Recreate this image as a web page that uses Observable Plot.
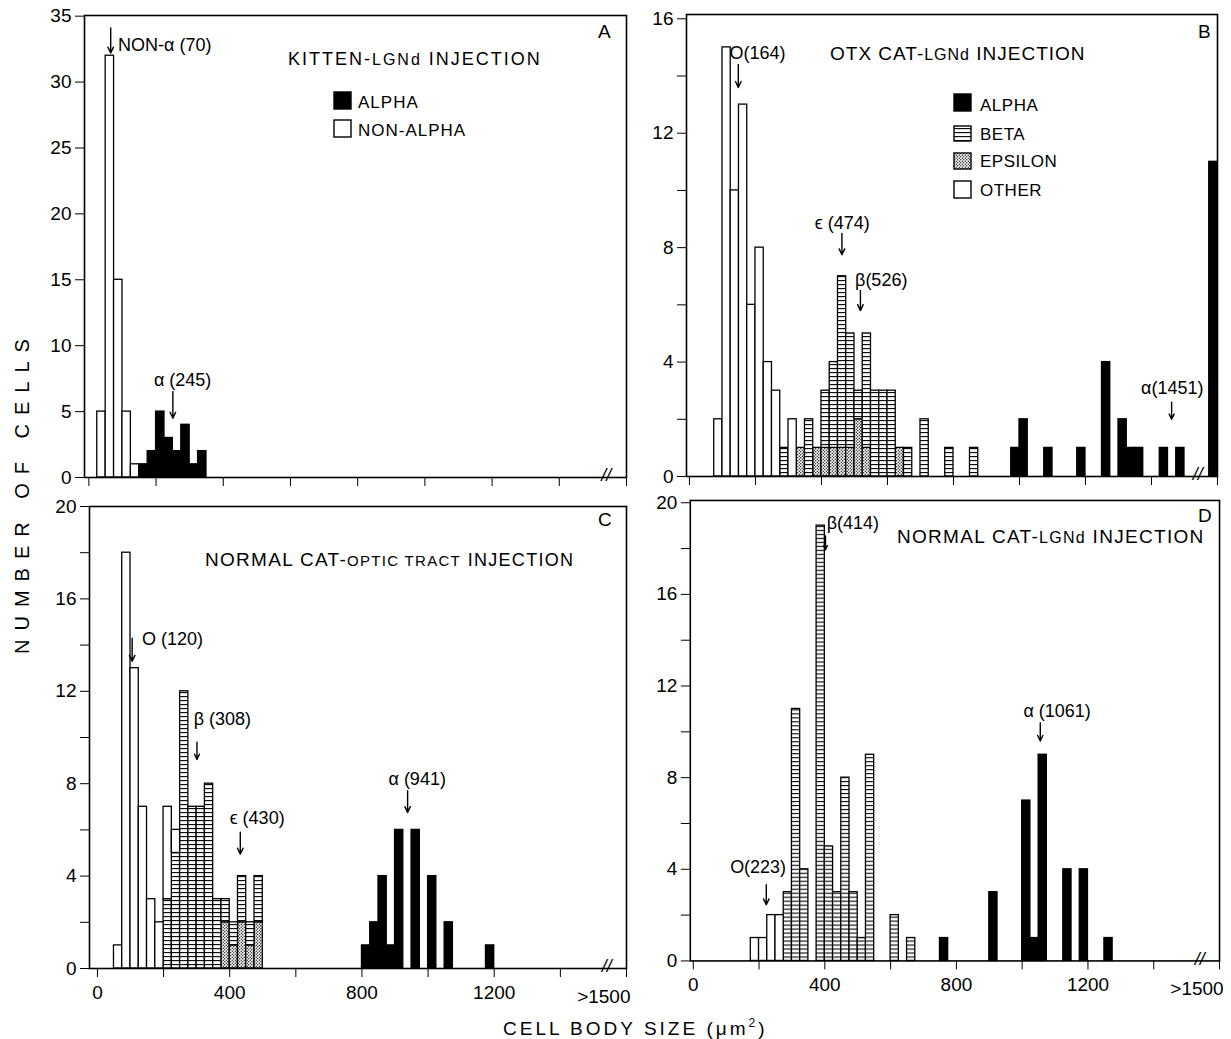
<!DOCTYPE html>
<html><head><meta charset="utf-8">
<script src="https://cdn.jsdelivr.net/npm/d3@7"></script>
<script src="https://cdn.jsdelivr.net/npm/@observablehq/plot@0.6"></script>
<style>
body{margin:0;background:#fff;}
#page{position:relative;width:1231px;height:1039px;background:#fff;overflow:hidden;font-family:"Liberation Sans Narrow","Liberation Sans",sans-serif;color:#000;}
.panel{position:absolute;}
#overlay{position:absolute;left:0;top:0;pointer-events:none;}
</style></head><body>
<div id="page">
<svg width="0" height="0" style="position:absolute">
<defs>
<pattern id="hatch" patternUnits="userSpaceOnUse" width="8" height="4"><rect width="8" height="4" fill="white"/><line x1="0" y1="0.6" x2="8" y2="0.6" stroke="black" stroke-width="1.1"/></pattern>
<pattern id="dots" patternUnits="userSpaceOnUse" width="3" height="3"><rect width="3" height="3" fill="white"/><circle cx="0.75" cy="0.75" r="0.65" fill="black"/><circle cx="2.25" cy="2.25" r="0.65" fill="black"/></pattern>
</defs></svg>
</div>
<script>
// ---------- DATA (bin start in µm², count) ----------
const BIN = 25;
// Panel A: kitten, LGNd injection
const aOther = [[25,5],[50,32],[75,15],[100,5],[125,1]];
const aAlpha = [[150,1],[175,2],[200,5],[225,3],[250,2],[275,4],[300,1],[325,2]];
// Panel B: OTX cat, LGNd injection
const bEpsilon = [[325,1],[375,1],[400,1],[425,1],[450,1],[475,1],[500,2],[525,1],[625,1]];
const bBeta = [[275,1],[350,2],[400,2],[425,3],[450,6],[475,4],[500,1],[525,4],[550,3],[575,3],[600,3],[650,1],[700,2],[775,1],[850,1]];
const bOther = [[75,2],[100,15],[125,10],[150,13],[175,6],[200,8],[225,4],[250,3],[300,2]];
const bAlpha = [[975,1],[1000,2],[1075,1],[1175,1],[1250,4],[1300,2],[1325,1],[1350,1],[1425,1],[1475,1],[1575,11]];
// Panel C: normal cat, optic tract injection
const cEpsilon = [[375,2],[400,1],[425,2],[450,1],[475,2]];
const cBeta = [[200,3],[225,5],[250,12],[275,7],[300,7],[325,8],[350,3],[375,1],[400,1],[425,2],[450,1],[475,2]];
const cOther = [[50,1],[75,18],[100,13],[125,7],[150,3],[175,2],[200,4],[225,1]];
const cAlpha = [[800,1],[825,2],[850,4],[875,1],[900,6],[950,6],[1000,4],[1050,2],[1175,1]];
// Panel D: normal cat, LGNd injection
const dBeta = [[275,3],[300,11],[325,4],[375,19],[400,5],[425,3],[450,8],[475,3],[500,1],[525,9],[600,2],[650,1]];
const dOther = [[175,1],[200,1],[225,2],[250,2]];
const dAlpha = [[750,1],[900,3],[1000,7],[1025,1],[1050,9],[1125,4],[1175,4],[1250,1]];

// Mean annotations: label, arrow x, arrow y top, arrow y tip, text x, text y, anchor
const aNotes = [["NON-α (70)",65,34.1,32.2,87,32.8,"start"],["α (245)",250,6.5,4.5,279,7.4,"middle"]];
const bNotes = [["O(164)",148,14.4,13.6,121,14.8,"start"],["ϵ (474)",462,8.5,7.75,463,8.85,"middle"],["β(526)",518,6.5,5.8,581,6.87,"middle"],["α(1451)",1461,2.6,2.0,1463,3.1,"middle"]];
const cNotes = [["O (120)",105,14.3,13.3,135,14.25,"start"],["β (308)",301,9.8,9.05,378,10.8,"middle"],["ϵ (430)",432,5.9,4.95,483,6.5,"middle"],["α (941)",938,7.7,6.75,967,8.2,"middle"]];
const dNotes = [["β(414)",402,18.55,17.95,485,19.1,"middle"],["O(223)",222,3.33,2.45,197,4.07,"middle"],["α (1061)",1055,10.4,9.6,1106,10.9,"middle"]];

// Axis ticks
const xTickValues = [0,200,400,600,800,1000,1200,1400,1600];
const xTickLabels = ["0","","400","","800","","1200","",">1500"];
const typeOrder = ["epsilon","beta","other","alpha"];

// ---------- BUILD ----------
const FONT = '"Liberation Sans Narrow","Liberation Sans",sans-serif';
function rows(pairs, type){ return pairs.map(([x,n]) => ({x, n, type})); }
function notes(arr){ return arr.map(([label,ax,ay1,ay2,tx,ty,anchor]) => ({label,ax,ay1,ay2,tx,ty,anchor})); }

function panel({left, top, w, h, xDomain, yDomain, yTicks, yFmt, xLabels, series, ann}){
  const mL=60, mR=12, mT=10, mB=45;
  const data = [];
  for (const t of typeOrder) if (series[t]) data.push(...rows(series[t], t));
  const chart = Plot.plot({
    width: mL+w+mR, height: mT+h+mB,
    marginLeft:mL, marginRight:mR, marginTop:mT, marginBottom:mB,
    style:{background:"transparent", fontFamily:FONT, fontSize:"19px", color:"black", overflow:"visible"},
    x:{domain:xDomain, ticks:xTickValues, tickSize:9, tickPadding:8, label:null,
       tickFormat:(d)=> xLabels && d!==1600 ? xTickLabels[xTickValues.indexOf(d)] : ""},
    y:{domain:yDomain, ticks:yTicks, tickSize:9, tickPadding:4, label:null, tickFormat:yFmt},
    color:{domain:typeOrder, range:["url(#dots)","url(#hatch)","white","black"]},
    marks:[
      Plot.rectY(data, {x1:"x", x2:d=>d.x+BIN, y:"n", fill:"type", stroke:"black", strokeWidth:1.3}),
      Plot.frame({stroke:"black", strokeWidth:1.6}),
      Plot.text(["//"], {x:()=>1540, y:()=>0, text:d=>d, fontSize:18, fontStyle:"italic", dy:-2}),
      xLabels ? Plot.text([xTickLabels[8]], {x:()=>xTickValues[8], y:()=>0, text:d=>d, textAnchor:"end", dx:4, dy:28, fontSize:19}) : null,
      Plot.arrow(ann, {x1:"ax", y1:"ay1", x2:"ax", y2:"ay2", stroke:"black", strokeWidth:1.4, headLength:7, headAngle:50}),
      Plot.text(ann.filter(d=>d.anchor==="start"), {x:"tx", y:"ty", text:"label", textAnchor:"start", fontSize:18}),
      Plot.text(ann.filter(d=>d.anchor==="middle"), {x:"tx", y:"ty", text:"label", textAnchor:"middle", fontSize:18})
    ]
  });
  const div = document.createElement("div");
  div.className="panel";
  div.style.left=(left-mL)+"px"; div.style.top=(top-mT)+"px";
  div.appendChild(chart);
  document.getElementById("page").appendChild(div);
}

const fmt4 = d => d%4===0 ? d : "";
const ticks2 = d3.range(0,21,2);
panel({left:84, top:15, w:542, h:462, xDomain:[-13,1600], yDomain:[0,35.05], yTicks:d3.range(0,36,5), yFmt:d=>d,
  xLabels:false, series:{other:aOther, alpha:aAlpha}, ann:notes(aNotes)});
panel({left:686, top:14, w:531, h:462, xDomain:[-9,1600], yDomain:[0,16.15], yTicks:d3.range(0,17,2), yFmt:fmt4,
  xLabels:false, series:{epsilon:bEpsilon, beta:bBeta, other:bOther, alpha:bAlpha}, ann:notes(bNotes)});
panel({left:89, top:506, w:537, h:462, xDomain:[-24,1600], yDomain:[0,20], yTicks:ticks2, yFmt:fmt4,
  xLabels:true, series:{epsilon:cEpsilon, beta:cBeta, other:cOther, alpha:cAlpha}, ann:notes(cNotes)});
panel({left:690, top:500, w:531, h:462, xDomain:[-9,1600], yDomain:[0,20.1], yTicks:ticks2, yFmt:fmt4,
  xLabels:true, series:{beta:dBeta, other:dOther, alpha:dAlpha}, ann:notes(dNotes)});

// ---------- OVERLAY: titles, legends, axis titles ----------
const NS="http://www.w3.org/2000/svg";
const ov=document.createElementNS(NS,"svg");
ov.setAttribute("id","overlay"); ov.setAttribute("width",1231); ov.setAttribute("height",1039);
ov.style.fontFamily=FONT;
document.getElementById("page").appendChild(ov);
function txt(parts, x, y, size, extra={}){
  const t=document.createElementNS(NS,"text");
  t.setAttribute("x",x); t.setAttribute("y",y); t.setAttribute("font-size",size);
  for (const [k,v] of Object.entries(extra)) t.setAttribute(k,v);
  for (const p of parts){
    const s=document.createElementNS(NS,"tspan");
    const [str, sz, dy] = Array.isArray(p) ? p : [p];
    s.textContent=str; if (sz) s.setAttribute("font-size",sz); if (dy) s.setAttribute("dy",dy);
    t.appendChild(s);
  }
  ov.appendChild(t); return t;
}
function box(x,y,w,h,fill){
  const r=document.createElementNS(NS,"rect");
  r.setAttribute("x",x);r.setAttribute("y",y);r.setAttribute("width",w);r.setAttribute("height",h);
  r.setAttribute("fill",fill);r.setAttribute("stroke","black");r.setAttribute("stroke-width",1.4);
  ov.appendChild(r);
}
// titles
txt(["KITTEN-",["LGNd",16]," INJECTION"], 288, 65, 18, {"letter-spacing":"2"});
txt(["OTX  CAT-",["LGNd",16],"  INJECTION"], 830, 60, 19, {"letter-spacing":"1"});
txt(["NORMAL CAT-",["OPTIC TRACT",15]," ",["INJECTION",18]], 205, 566, 19, {"letter-spacing":"1.3"});
txt(["NORMAL CAT-",["LGNd",16]," INJECTION"], 897, 543, 19, {"letter-spacing":"1.3"});
// panel letters
txt(["A"], 598, 38, 19); txt(["B"], 1198, 38, 19); txt(["C"], 598, 526, 19); txt(["D"], 1198, 522, 19);
// legends
box(334,92,17,17,"black"); txt(["ALPHA"], 358, 108, 17, {"letter-spacing":"1"});
box(334,120,17,17,"white"); txt(["NON-ALPHA"], 358, 136, 17, {"letter-spacing":"1"});
box(954,94,17,17,"black"); txt(["ALPHA"], 980, 111, 17, {"letter-spacing":"0.5"});
box(954,126,17,15,"url(#hatch)"); txt(["BETA"], 980, 140, 17, {"letter-spacing":"0.5"});
box(954,153,17,16,"url(#dots)"); txt(["EPSILON"], 980, 167, 17, {"letter-spacing":"0.5"});
box(954,181,17,17,"white"); txt(["OTHER"], 980, 196, 17, {"letter-spacing":"0.5"});
// axis titles
txt(["NUMBER  OF  CELLS"], 0, 0, 20, {"transform":"translate(29,492) rotate(-90)","text-anchor":"middle","letter-spacing":"9"});
txt(["CELL  BODY  SIZE  (μm",["2",12,"-8"],[")",19,"8"]], 503, 1035, 19, {"letter-spacing":"3"});
</script>
</body></html>
